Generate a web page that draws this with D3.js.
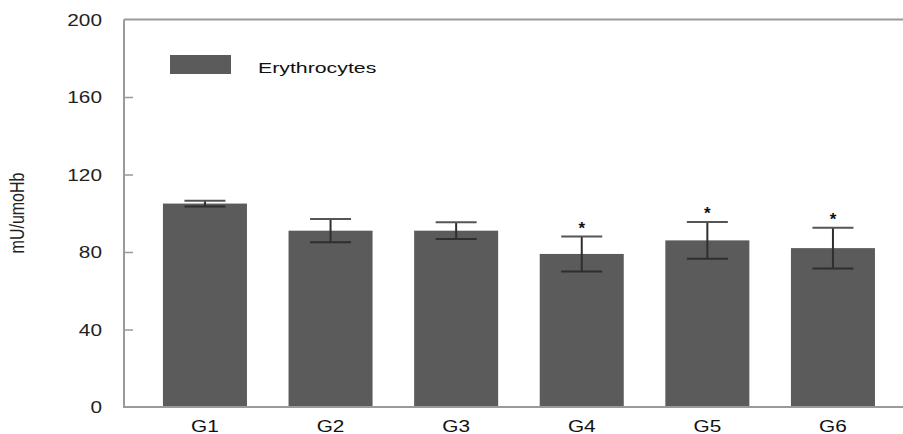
<!DOCTYPE html>
<html><head><meta charset="utf-8">
<script src="https://cdn.jsdelivr.net/npm/d3@7/dist/d3.min.js"></script>
<style>body{margin:0;background:#fff}svg{display:block}text{font-family:"Liberation Sans",Arial,sans-serif}</style>
</head><body>
<svg id="c" width="903" height="434"></svg>
<script>
const groups = ["G1","G2","G3","G4","G5","G6"];
const means = [105, 91, 91, 79, 86, 82];
const errs = [1.5, 6, 4.3, 9, 9.5, 10.5];
const signif = [false, false, false, true, true, true];
const yTicks = [0, 40, 80, 120, 160, 200];
const seriesName = "Erythrocytes";
const yTitle = "mU/umoHb";

const svg = d3.select("#c");
const mLeft = 124, mTop = 19.5, mBottom = 407, mRight = 903;
const y = d3.scaleLinear().domain([0, 200]).range([mBottom, mTop]);
const step = 125.6, pin = 0.331, pout = 0.31;
const x = d3.scaleBand().domain(groups).paddingInner(pin).paddingOuter(pout)
  .range([mLeft, mLeft + step * (groups.length - pin + 2 * pout)]);

const barColor = "#5b5b5b", axisColor = "#9a9a9a", errColor = "#2e2e2e";

// bars
svg.selectAll("rect.bar").data(groups).join("rect").attr("class","bar")
  .attr("x", d => x(d)).attr("width", x.bandwidth())
  .attr("y", (d,i) => y(means[i])).attr("height", (d,i) => y(0) - y(means[i]))
  .attr("fill", barColor);

// error bars
const cap = 41;
const eb = svg.append("g").attr("stroke", errColor).attr("stroke-width", 2);
groups.forEach((g,i) => {
  const cx = x(g) + x.bandwidth()/2;
  eb.append("line").attr("x1",cx).attr("x2",cx).attr("y1",y(means[i]+errs[i])).attr("y2",y(means[i]-errs[i]));
  eb.append("line").attr("x1",cx-cap/2).attr("x2",cx+cap/2).attr("y1",y(means[i]+errs[i])).attr("y2",y(means[i]+errs[i])).attr("stroke","#555");
  eb.append("line").attr("x1",cx-cap/2).attr("x2",cx+cap/2).attr("y1",y(means[i]-errs[i])).attr("y2",y(means[i]-errs[i]));
  if (signif[i]) {
    svg.append("text").attr("x",cx).attr("y",y(means[i]+errs[i]) - 3)
      .attr("text-anchor","middle").attr("font-size",17).attr("font-weight","bold").attr("fill","#111").text("*");
  }
});

// axes frame
const ax = svg.append("g").attr("stroke", axisColor).attr("stroke-width", 2).attr("fill","none");
ax.append("line").attr("x1",mLeft).attr("x2",mLeft).attr("y1",mTop).attr("y2",mBottom+1);
ax.append("line").attr("x1",mLeft).attr("x2",mRight).attr("y1",mTop).attr("y2",mTop);
ax.append("line").attr("x1",mLeft-1).attr("x2",mRight).attr("y1",mBottom).attr("y2",mBottom);

// y axis ticks (inner) via d3 axis
const yAxis = d3.axisRight(y).tickValues(yTicks).tickSize(9).tickFormat("");
const yg = svg.append("g").attr("transform", `translate(${mLeft},0)`).call(yAxis);
yg.select(".domain").remove();
yg.selectAll(".tick line").attr("stroke", axisColor).attr("stroke-width", 1.5);
yg.selectAll(".tick").filter(d => d === 0 || d === 200).select("line").remove();

// y tick labels
svg.selectAll("text.yl").data(yTicks).join("text").attr("class","yl")
  .attr("transform", d => `translate(102,${y(d)+6}) scale(1.3,1)`)
  .attr("text-anchor","end").attr("font-size",16).attr("fill","#222").text(d => d);

// x labels
svg.selectAll("text.xl").data(groups).join("text").attr("class","xl")
  .attr("transform", d => `translate(${x(d)+x.bandwidth()/2},${432}) scale(1.3,1)`)
  .attr("text-anchor","middle").attr("font-size",16).attr("fill","#111").text(d => d);

// y title
svg.append("text").attr("transform","translate(24,213) scale(1.25,1) rotate(-90)")
  .attr("text-anchor","middle").attr("font-size",16).attr("fill","#222").text(yTitle);

// legend
svg.append("rect").attr("x",170).attr("y",55).attr("width",61).attr("height",19).attr("fill",barColor);
svg.append("text").attr("transform","translate(258,73) scale(1.42,1)").attr("font-size",15).attr("fill","#111").text(seriesName);
</script>
</body></html>
